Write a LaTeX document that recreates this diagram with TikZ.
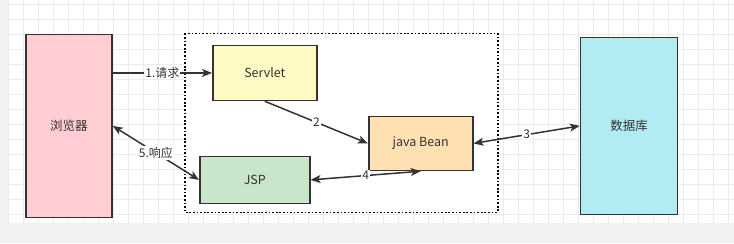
\documentclass[tikz,border=0pt]{standalone}
\usepackage{fontspec}
\setmainfont{Noto Sans CJK SC}
\usepackage{xcolor}
\usetikzlibrary{arrows.meta,calc}
\definecolor{wEdge}{HTML}{333333}
\definecolor{wPink}{HTML}{FFCDD2}
\definecolor{wYellow}{HTML}{FFF9C4}
\definecolor{wGreen}{HTML}{C8E6C9}
\definecolor{wOrange}{HTML}{FFE0B2}
\definecolor{wCyan}{HTML}{B2EBF2}
\definecolor{wPage}{HTML}{F1F1F1}
\definecolor{wGrid}{HTML}{EBEBEB}
\tikzset{
  wBox/.style={draw=wEdge,line width=1.7pt,align=center,inner sep=0pt,
        text=wEdge,font=\fontsize{12.5}{14}\selectfont},
  wBrowser/.style={wBox,fill=wPink,minimum width=86pt,minimum height=183pt},
  wServlet/.style={wBox,fill=wYellow,minimum width=104pt,minimum height=55pt},
  wJsp/.style={wBox,fill=wGreen,minimum width=110pt,minimum height=47pt},
  wBean/.style={wBox,fill=wOrange,minimum width=104pt,minimum height=54pt},
  wDb/.style={wBox,fill=wCyan,minimum width=97pt,minimum height=177pt},
  wGroup/.style={draw=black,line width=1.7pt,dash pattern=on 1.7pt off 1.9pt},
  wArrow/.style={draw=wEdge,line width=1.5pt,
        -{Stealth[length=10pt,width=8pt,inset=2.5pt]}},
  wBoth/.style={wArrow,{Stealth[length=10pt,width=8pt,inset=2.5pt]}-{Stealth[length=10pt,width=8pt,inset=2.5pt]}},
  wLabel/.style={fill=white,inner sep=1pt,text=wEdge,font=\fontsize{12}{14}\selectfont},
}
\begin{document}
\begin{tikzpicture}[x=1pt,y=-1pt]
% page and grid
\fill[wPage] (0,0) rectangle (734,243);
\fill[white] (9,0) rectangle (734,223);
\foreach \i in {0,...,48} {
  \pgfmathsetmacro{\gx}{9+15*\i}
  \draw[wGrid,line width=1pt] (\gx,0) -- (\gx,223);
}
\foreach \j in {0,...,14} {
  \pgfmathsetmacro{\gy}{4+15*\j}
  \draw[wGrid,line width=1pt] (9,\gy) -- (734,\gy);
}
\useasboundingbox (0,0) rectangle (734,243);
\fill[white] (185,33) rectangle (498,212);
\draw[wGroup] (185,33) rectangle (498,212);
\node[wBrowser] (browser) at (69,125.5) {浏览器};
\node[wServlet] (servlet) at (265,72.5) {Servlet};
\node[wJsp] (jsp) at (255,179.5) {JSP};
\node[wBean] (bean) at (421,143) {java Bean};
\node[wDb] (db) at (629.5,125.5) {数据库};
\draw[wArrow] (browser.east |- servlet.west) -- node[wLabel] {1.请求} (servlet.west);
\draw[wArrow] (servlet.south) -- node[wLabel] {2} (bean.west);
\draw[wBoth] (bean.east) -- node[wLabel] {3} (db.west);
\draw[wBoth] (bean.south) -- node[wLabel] {4} (jsp.east);
\draw[wBoth] (browser.east) -- node[wLabel] {5.响应} (jsp.west);
\end{tikzpicture}
\end{document}
